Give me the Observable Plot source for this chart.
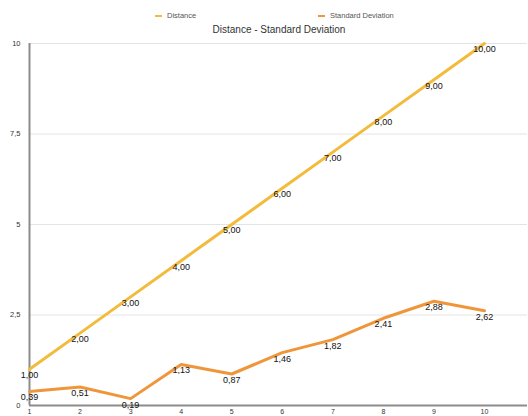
<!DOCTYPE html>
<html>
<head>
<meta charset="utf-8">
<script src="https://cdn.jsdelivr.net/npm/d3@7"></script>
<script src="https://cdn.jsdelivr.net/npm/@observablehq/plot@0.6"></script>
<style>
  html, body { margin: 0; padding: 0; background: #fff; }
  #wrap { position: relative; width: 528px; height: 416px; font-family: "Liberation Sans", Arial, sans-serif; }
  #legend { position: absolute; top: 11px; left: 0; width: 528px; height: 12px; font-size: 7.5px; color: #555; }
  .item { position: absolute; top: 0; display: flex; align-items: center; }
  .sw { display: inline-block; width: 7px; height: 2px; margin-right: 5px; }
  #title { position: absolute; top: 24px; left: 0; width: 558px; text-align: center; font-size: 10px; color: #333; }
  #chart { position: absolute; top: 0; left: 0; }
</style>
</head>
<body>
<div id="wrap">
  <div id="chart"></div>
  <div id="legend"></div>
  <div id="title">Distance - Standard Deviation</div>
</div>
<script>
// Observation index along the x axis
const steps = [1, 2, 3, 4, 5, 6, 7, 8, 9, 10];
// Series values
const distance = [1.00, 2.00, 3.00, 4.00, 5.00, 6.00, 7.00, 8.00, 9.00, 10.00];
const stdDev = [0.39, 0.51, 0.19, 1.13, 0.87, 1.46, 1.82, 2.41, 2.88, 2.62];
// Axis ticks
const yTicks = [0, 2.5, 5, 7.5, 10];
const gridTicks = [2.5, 5, 7.5, 10];

const seriesNames = ["Distance", "Standard Deviation"];
const seriesColors = ["#f3bb3c", "#f0963a"];

const rows = [
  ...steps.map((s, i) => ({step: s, value: distance[i], series: seriesNames[0]})),
  ...steps.map((s, i) => ({step: s, value: stdDev[i], series: seriesNames[1]}))
];

const locale = d3.formatLocale({decimal: ",", thousands: ".", grouping: [3], currency: ["", "€"]});
const fmt2 = locale.format(".2f");
const fmtTick = v => locale.format("~g")(v);

const chart = Plot.plot({
  width: 528,
  height: 416,
  marginLeft: 29,
  marginRight: 1,
  marginTop: 43,
  marginBottom: 11,
  style: {fontFamily: "'Liberation Sans', Arial, sans-serif", background: "#fff"},
  x: {domain: [1, 10], range: [29, 484]},
  y: {domain: [0, 10]},
  color: {domain: seriesNames, range: seriesColors},
  marks: [
    Plot.ruleY(gridTicks, {stroke: "#e4e4e4", strokeWidth: 1}),
    Plot.axisY({ticks: yTicks, tickFormat: fmtTick, tickSize: 0, tickPadding: 9, fontSize: 7.5, fill: "#333", label: null}),
    Plot.axisX({ticks: steps, tickFormat: d => String(d), tickSize: 0, tickPadding: 3.5, fontSize: 7, fill: "#333", label: null}),
    Plot.ruleX([1], {stroke: "#8c8c8c", strokeWidth: 2}),
    Plot.ruleY([0], {stroke: "#8c8c8c", strokeWidth: 2}),
    Plot.line(rows, {x: "step", y: "value", z: "series", stroke: "series", strokeWidth: 3, curve: "linear"}),
    Plot.text(rows, {x: "step", y: "value", text: d => fmt2(d.value), dy: 6, fontSize: 9, fill: "#111"})
  ]
});
document.getElementById("chart").appendChild(chart);

// Legend entries
const legend = document.getElementById("legend");
const legendX = [155, 318];
seriesNames.forEach((name, i) => {
  const item = document.createElement("div");
  item.className = "item";
  item.style.left = legendX[i] + "px";
  const sw = document.createElement("span");
  sw.className = "sw";
  sw.style.background = seriesColors[i];
  item.appendChild(sw);
  item.appendChild(document.createTextNode(name));
  legend.appendChild(item);
});
</script>
</body>
</html>
